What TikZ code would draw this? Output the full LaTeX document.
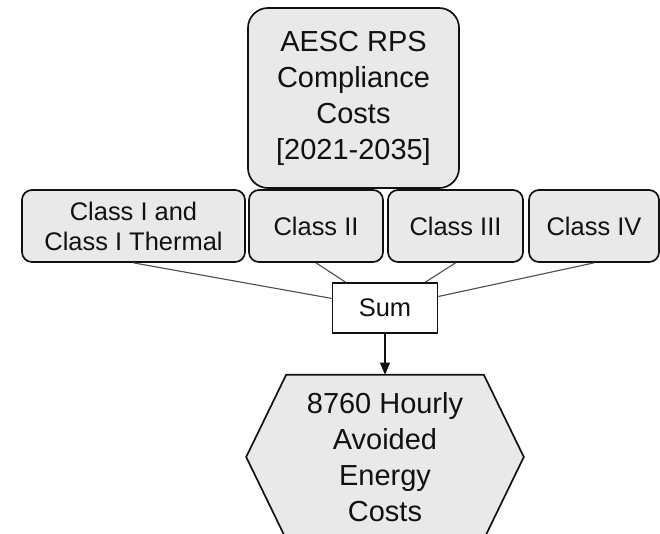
\documentclass[tikz,border=0pt]{standalone}
\usepackage{fontspec}
\setmainfont{Liberation Sans}
\usetikzlibrary{arrows.meta}
\definecolor{boxink}{HTML}{111111}
\definecolor{boxfill}{HTML}{E9E9E9}
\definecolor{linkgray}{HTML}{505050}
\newcommand{\bigtxt}{\fontsize{20.6pt}{25.6pt}\selectfont}
\newcommand{\midtxt}{\fontsize{18.1pt}{21.3pt}\selectfont}
\begin{document}
\begin{tikzpicture}[
  x=0.025cm,
  y=-0.025cm,
  every node/.style={boxink, align=center, inner sep=0pt},
  costbox/.style={draw=boxink, fill=boxfill, line width=1.2pt,
                  rounded corners=0.5cm, font=\bigtxt},
  classbox/.style={draw=boxink, fill=boxfill, line width=1.2pt,
                   rounded corners=0.25cm, minimum height=1.8cm, font=\midtxt},
  sumbox/.style={draw=boxink, fill=white, line width=1.2pt,
                 minimum width=2.625cm, minimum height=1.25cm, font=\midtxt},
  link/.style={linkgray, line width=0.8pt},
  flow/.style={boxink, line width=0.8pt, -{Triangle[length=0.3cm, width=0.25cm]}}
]
  % ---- page frame, the hexagon runs past its lower edge ----
  \useasboundingbox (0,0) rectangle (660,534);

  % ---- top box ----
  \node[costbox, minimum width=5.275cm, minimum height=4.5cm] (rps) at (353.5,98)
    {AESC RPS\\Compliance\\Costs\\{}[2021-2035]};

  % ---- the four classes ----
  \node[classbox, minimum width=5.575cm] (cls1) at (133.5,226) {Class I and\\Class I Thermal};
  \node[classbox, minimum width=3.35cm] (cls2) at (316,226) {Class II};
  \node[classbox, minimum width=3.375cm] (cls3) at (455.5,226) {Class III};
  \node[classbox, minimum width=3.25cm] (cls4) at (594,226) {Class IV};

  % ---- sum ----
  \node[sumbox] (sum) at (385,308) {Sum};
  \foreach \c in {cls1,cls2,cls3,cls4}
    \draw[link] (\c.south) -- (sum);

  % ---- hexagon with the result ----
  \node[minimum width=6.925cm, minimum height=4.1cm] (hexframe) at (385,457) {};
  \filldraw[draw=boxink, fill=boxfill, line width=1.2pt]
    (hexframe.west) -- ([xshift=1cm]hexframe.north west) -- ([xshift=-1cm]hexframe.north east)
    -- (hexframe.east) -- ([xshift=-1cm]hexframe.south east)
    -- ([xshift=1cm]hexframe.south west) -- cycle;
  \node[font=\bigtxt] (hex) at (hexframe.center) {8760 Hourly\\Avoided\\Energy\\Costs};

  \draw[flow] (sum.south) -- (hexframe.north);
\end{tikzpicture}
\end{document}
